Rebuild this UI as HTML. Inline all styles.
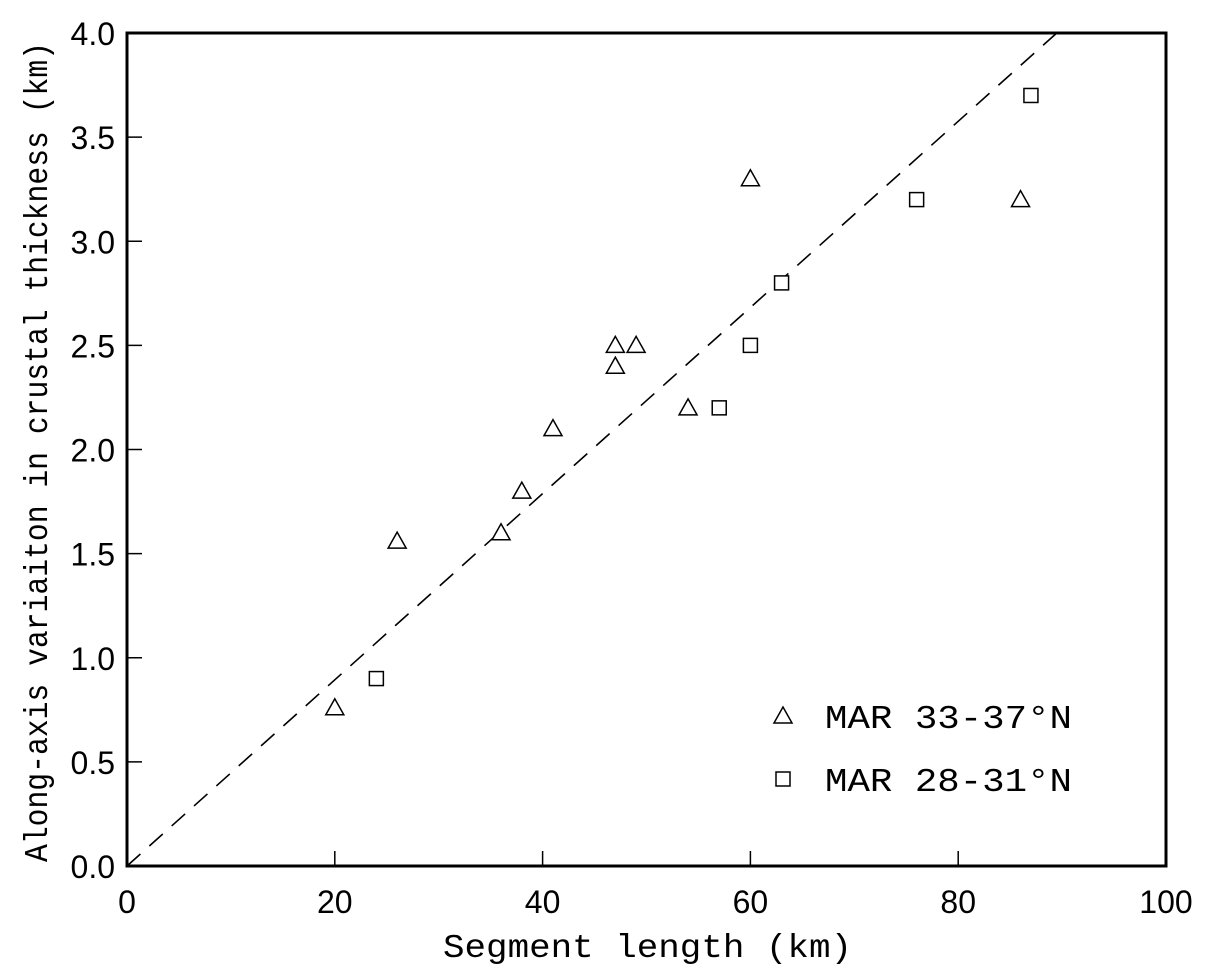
<!DOCTYPE html>
<html><head><meta charset="utf-8"><style>
body{margin:0;background:#fff;}
svg text{fill:#000;}
.tick{font-family:"Liberation Sans",sans-serif;font-size:32px;font-weight:300;}
.ttl{font-family:"Liberation Mono",monospace;font-size:33px;}
</style></head><body>
<svg id="chart" width="1208" height="970" xmlns="http://www.w3.org/2000/svg">
<g id="marks"></g>
</svg>
<script>
const xTicks=[0,20,40,60,80,100];
const yTicks=[0.0,0.5,1.0,1.5,2.0,2.5,3.0,3.5,4.0];
const triX=[20,26,36,38,41,47,47,49,54,60,86];
const triY=[0.76,1.56,1.6,1.8,2.1,2.5,2.4,2.5,2.2,3.3,3.2];
const sqX=[24,57,60,63,76,87];
const sqY=[0.9,2.2,2.5,2.8,3.2,3.7];
const fitSlope=[0.0447];
const L=127,R=1166,T=33,B=866;
const xs=v=>L+(v/100)*(R-L);
const ys=v=>B-(v/4)*(B-T);
const svg=document.getElementById('chart');
const NS='http://www.w3.org/2000/svg';
function mk(tag,a,p){const e=document.createElementNS(NS,tag);for(const k in a)e.setAttribute(k,a[k]);(p||svg).appendChild(e);return e;}
const fx=4/fitSlope[0];
let fl=mk('line',{x1:xs(0),y1:ys(0),x2:xs(fx),y2:ys(4),stroke:'#000','stroke-width':1.6,'stroke-dasharray':'18,12'});


xTicks.forEach(v=>{
 let t=mk('line',{x1:xs(v),y1:B,x2:xs(v),y2:B-15,stroke:'#000','stroke-width':1.5});
 
 
 let l=mk('text',{x:xs(v),y:913,'text-anchor':'middle',class:'tick'});l.textContent=v;
 
 
});
yTicks.forEach(v=>{
 let t=mk('line',{x1:L,y1:ys(v),x2:L+15,y2:ys(v),stroke:'#000','stroke-width':1.5});
 
 
 let l=mk('text',{x:115,y:ys(v)+12,'text-anchor':'end',class:'tick'});l.textContent=v.toFixed(1);
 
 
});
let fr=mk('rect',{x:L,y:T,width:R-L,height:B-T,fill:'none',stroke:'#000','stroke-width':3});


function tri(cx,cy){return mk('polygon',{points:`${cx},${cy-9} ${cx-9},${cy+7} ${cx+9},${cy+7}`,fill:'#fff',stroke:'#000','stroke-width':1.5});}
function sq(cx,cy){return mk('rect',{x:cx-7,y:cy-7,width:14,height:14,fill:'#fff',stroke:'#000','stroke-width':1.5});}
triX.forEach((v,i)=>{const p=tri(xs(v),ys(triY[i]));
 
 });
sqX.forEach((v,i)=>{const p=sq(xs(v),ys(sqY[i]));
 
 });
let lt=tri(783,716);
let ls=sq(783,779);
let t1=mk('text',{x:825,y:728,class:'ttl',textLength:247,lengthAdjust:'spacingAndGlyphs'});t1.textContent='MAR 33-37°N';

let t2=mk('text',{x:825,y:791,class:'ttl',textLength:247,lengthAdjust:'spacingAndGlyphs'});t2.textContent='MAR 28-31°N';

let xt=mk('text',{x:443,y:957,class:'ttl',textLength:409,lengthAdjust:'spacingAndGlyphs'});xt.textContent='Segment length (km)';

let yt=mk('text',{x:0,y:0,class:'ttl',textLength:820,lengthAdjust:'spacingAndGlyphs',transform:'translate(47,862) rotate(-90)'});yt.textContent='Along-axis variaiton in crustal thickness (km)';

</script>
</body></html>
